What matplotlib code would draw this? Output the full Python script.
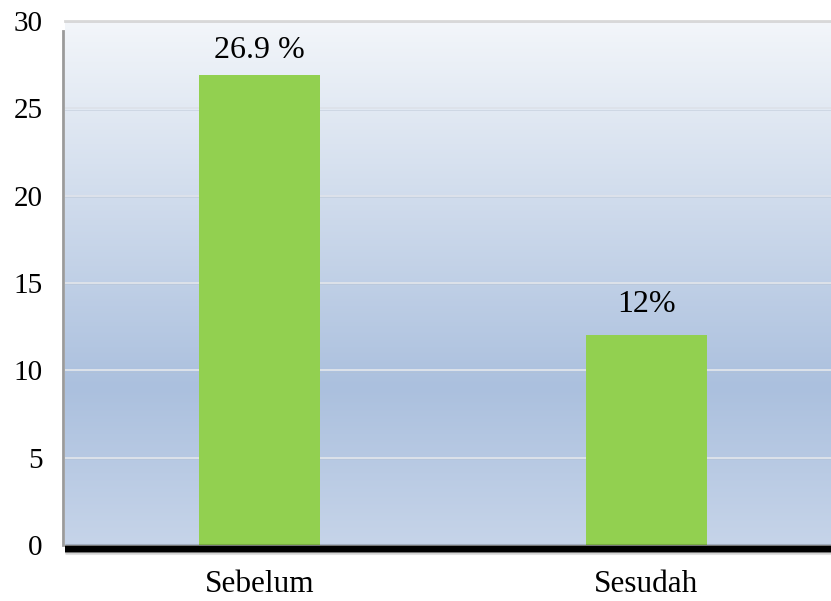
import matplotlib.pyplot as plt
import numpy as np
from matplotlib.colors import LinearSegmentedColormap

# data
categories = ['Sebelum', 'Sesudah']
values = [26.9, 12]
bar_labels = ['26.9 %', '12%']
yticks = [0, 5, 10, 15, 20, 25, 30]

plt.rcParams['font.family'] = ['Liberation Serif', 'DejaVu Serif']

fig = plt.figure(figsize=(8.31, 6.01), dpi=100)
ax = fig.add_axes([65 / 831, 56 / 601, 766 / 831, 524 / 601])

# gradient background of the plot area
bg = LinearSegmentedColormap.from_list(
    'bg', [(0.0, '#c6d4e9'), (0.3, '#abc0de'), (1.0, '#f3f6fa')])
grad = np.linspace(0, 1, 256).reshape(-1, 1)
ax.imshow(grad, cmap=bg, aspect='auto', origin='lower',
          extent=[0, 1, 0, 1], transform=ax.transAxes, zorder=0)

x = np.arange(len(categories))
ax.bar(x, values, width=0.3127, color='#92d050', zorder=3)

# gridlines with a faint shadow
for t in yticks[1:]:
    ax.axhline(t, color='#dde2ea', lw=1.4, zorder=1)
    ax.axhline(t - 0.08, color='#b4c0d0', lw=0.6, alpha=0.5, zorder=1)

# dark floor at the base
for i, (lw, a) in enumerate([(8, 0.12), (6, 0.4), (4.5, 1.0)]):
    ax.plot([0, 1], [-0.007 - i * 0.0006, -0.007 - i * 0.0006],
            transform=ax.transAxes, color='black', lw=lw, alpha=a,
            solid_capstyle='butt', clip_on=False, zorder=4)
# left edge shadow
ax.plot([-0.002, -0.002], [0, 0.98], transform=ax.transAxes,
        color='#9a9a9a', lw=2, clip_on=False, zorder=4)
ax.plot([0, 1], [1, 1], transform=ax.transAxes, color='#d8d8d8',
        lw=2, clip_on=False, zorder=4)

label_offsets = [17.5, 22.5]
for xi, v, lab, off in zip(x, values, bar_labels, label_offsets):
    ax.annotate(lab, (xi, v), xytext=(0, off), textcoords='offset points',
                ha='center', va='center', fontsize=23)

ax.set_xlim(-0.5026, 1.477)
ax.set_ylim(0, 30)
ax.set_yticks(yticks)
ax.set_xticks(x)
ax.set_xticklabels(categories)
ax.tick_params(axis='both', length=0, labelsize=21)
ax.tick_params(axis='x', labelsize=22.5, pad=18)
ax.tick_params(axis='y', pad=16)
for s in ax.spines.values():
    s.set_visible(False)

fig.savefig('out.png', dpi=100)
